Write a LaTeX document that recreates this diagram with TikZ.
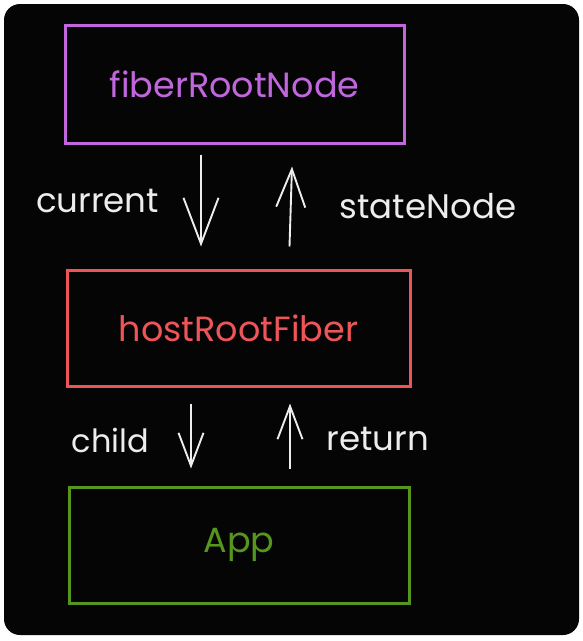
\documentclass[tikz,border=0pt]{standalone}
\usepackage{fontspec}
\setmainfont{Poppins}
\usetikzlibrary{arrows.meta}
\definecolor{bgblack}{HTML}{050505}
\definecolor{fpurple}{HTML}{C266DE}
\definecolor{fred}{HTML}{EE5559}
\definecolor{fgreen}{HTML}{56951E}
\definecolor{fwhite}{HTML}{EDEDED}
\tikzset{
  box/.style={draw, line width=3pt, rectangle, inner sep=0pt,
    font=\fontsize{35}{40}\selectfont},
  lbl/.style={text=fwhite, anchor=base, inner sep=0pt, font=\fontsize{34}{38}\selectfont},
  arr/.style={draw=fwhite, line width=1.9pt},
  tipA/.style={-{Straight Barb[length=46pt,width=35pt,line width=1.9pt]}},
  tipB/.style={-{Straight Barb[length=38pt,width=29pt,line width=1.9pt]}},
  tipC/.style={-{Straight Barb[length=33pt,width=25pt,line width=1.9pt]}},
}
\begin{document}
\begin{tikzpicture}[x=1pt,y=-1pt]
\useasboundingbox (0,0) rectangle (583,641);
\fill[white] (0,0) rectangle (583,641);
\fill[bgblack, rounded corners=16pt] (4,4) rectangle (579,635);

\node[box, draw=fpurple, text=fpurple, minimum width=339pt, minimum height=118pt] (fiber) at (234.5,84) {fiberRootNode};
\node[box, draw=fred, text=fred, minimum width=343pt, minimum height=116pt] (host) at (238.5,328) {hostRootFiber};
\node[box, draw=fgreen, text=fgreen, minimum width=340pt, minimum height=116pt] (app) at (239,545) {App};

\draw[arr, tipA] ([xshift=-33.5pt,yshift=-10pt]fiber.south) -- ([xshift=-37.5pt,yshift=22pt]host.north);
\draw[arr, tipB] ([xshift=51pt,yshift=22pt]host.north) -- ([xshift=57.5pt,yshift=-22pt]fiber.south);
\draw[arr, tipC] ([xshift=-47.5pt,yshift=-16pt]host.south) -- ([xshift=-48pt,yshift=17pt]app.north);
\draw[arr, tipC] ([xshift=51pt,yshift=17pt]app.north) -- ([xshift=51.5pt,yshift=-16pt]host.south);

\node[lbl] (lcurrent) at (97.5,212) {current};
\node[lbl] (lstate) at (428,218) {stateNode};
\node[lbl, font=\fontsize{32}{36}\selectfont] (lchild) at (110.5,452) {child};
\node[lbl] (lreturn) at (378,450) {return};
\end{tikzpicture}
\end{document}
